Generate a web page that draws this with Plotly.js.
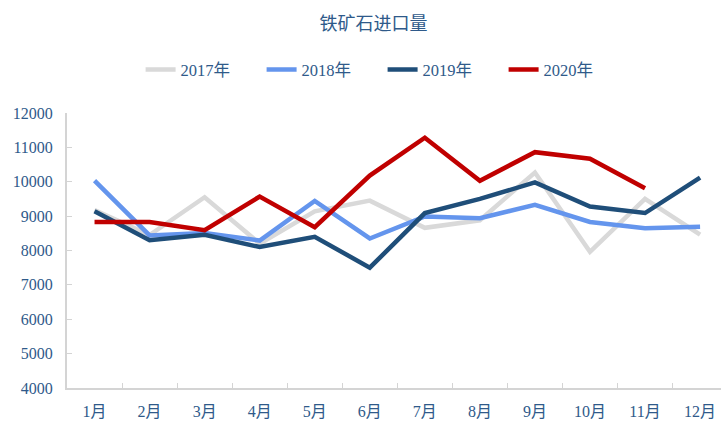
<!DOCTYPE html>
<html>
<head>
<meta charset="utf-8">
<script src="https://cdn.plot.ly/plotly-3.0.1.min.js"></script>
<style>
  html, body { margin: 0; padding: 0; background: #fff; }
  #chart { width: 721px; height: 423px; }
</style>
</head>
<body>
<div id="chart"></div>
<script>
const months = ['1月', '2月', '3月', '4月', '5月', '6月', '7月', '8月', '9月', '10月', '11月', '12月'];

const y2017 = [9180, 8450, 9550, 8200, 9140, 9450, 8660, 8880, 10270, 7960, 9500, 8460];
const y2018 = [10030, 8440, 8510, 8290, 9440, 8350, 8990, 8940, 9330, 8830, 8650, 8690];
const y2019 = [9140, 8300, 8460, 8100, 8400, 7500, 9090, 9500, 9980, 9280, 9090, 10120];
const y2020 = [8830, 8830, 8590, 9570, 8680, 10180, 11280, 10030, 10860, 10670, 9810];

const textColor = '#2F5A8A';
const axisColor = '#D4D4D4';
const font = 'Liberation Serif, "Noto Sans CJK SC", serif';

function series(name, y, color) {
  return {
    x: months.slice(0, y.length),
    y: y,
    name: name,
    type: 'scatter',
    mode: 'lines',
    line: { color: color, width: 4.5 }
  };
}

const traces = [
  series('2017年', y2017, '#D9D9D9'),
  series('2018年', y2018, '#6495ED'),
  series('2019年', y2019, '#1F4E79'),
  series('2020年', y2020, '#C00000')
];

const layout = {
  width: 721,
  height: 423,
  margin: { l: 67, r: 0, t: 113, b: 35 },
  paper_bgcolor: '#fff',
  plot_bgcolor: '#fff',
  font: { family: font, color: textColor, size: 16 },
  title: {
    text: '铁矿石进口量',
    font: { family: '"Noto Sans CJK SC", serif', size: 18, color: textColor },
    x: 0.518,
    xanchor: 'center',
    y: 0.945,
    yanchor: 'middle'
  },
  showlegend: true,
  legend: {
    orientation: 'h',
    xref: 'container',
    yref: 'container',
    x: 0.195,
    xanchor: 'left',
    y: 0.835,
    yanchor: 'middle',
    entrywidth: 76,
    entrywidthmode: 'pixels',
    font: { family: font, size: 16.5, color: textColor },
    itemwidth: 30
  },
  xaxis: {
    type: 'category',
    range: [-0.5, 11.38],
    showgrid: false,
    showline: true,
    linecolor: axisColor,
    linewidth: 2,
    ticks: 'inside',
    tickson: 'boundaries',
    ticklen: 5,
    tickcolor: axisColor,
    tickwidth: 1,
    ticklabelstandoff: 8,
    zeroline: false,
    fixedrange: true
  },
  yaxis: {
    range: [4000, 12000],
    dtick: 1000,
    tickformat: 'd',
    showgrid: false,
    showline: true,
    linecolor: axisColor,
    linewidth: 2,
    ticks: 'inside',
    ticklen: 5,
    tickcolor: axisColor,
    tickwidth: 1,
    ticklabelstandoff: 9,
    zeroline: false,
    fixedrange: true
  }
};

Plotly.newPlot('chart', traces, layout, { displayModeBar: false, staticPlot: true });
</script>
</body>
</html>
